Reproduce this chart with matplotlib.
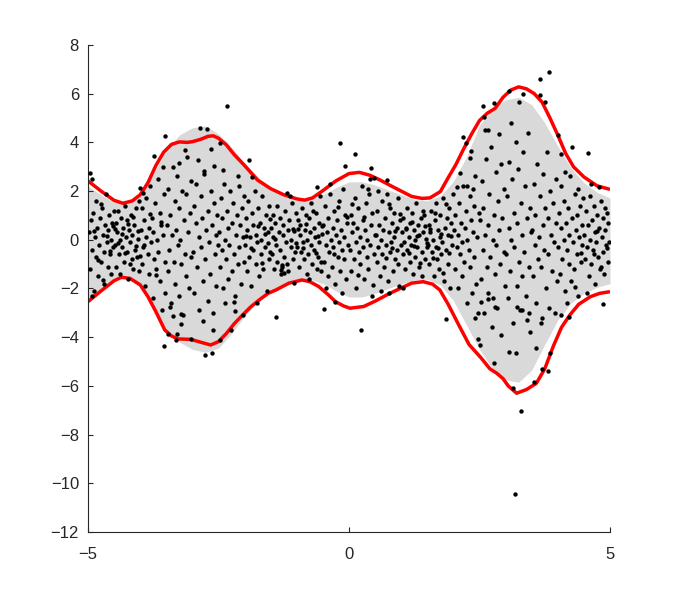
import matplotlib
matplotlib.use("Agg")
import matplotlib.pyplot as plt

# ---------------- data ----------------
# grey band (lower / upper edge)
band_x = [-5.0, -4.75, -4.5, -4.25, -4.0, -3.75, -3.5, -3.25, -3.0, -2.75, -2.5, -2.25, -2.0, -1.75,
          -1.5, -1.25, -1.0, -0.75, -0.5, -0.25, 0.0, 0.25, 0.5, 0.75, 1.0, 1.25, 1.5, 1.75, 2.0,
          2.25, 2.5, 2.75, 3.0, 3.25, 3.5, 3.75, 4.0, 4.25, 4.5, 4.75, 5.0]
band_hi = [2.2, 1.85, 1.55, 1.5, 1.8, 2.7, 3.7, 4.3, 4.6, 4.68, 4.35, 3.8, 3.15, 2.6,
           2.15, 1.85, 1.62, 1.65, 1.85, 2.15, 2.38, 2.38, 2.25, 2.05, 1.85, 1.65, 1.6, 1.8, 2.4,
           3.4, 4.7, 5.4, 5.75, 5.85, 5.55, 4.8, 3.85, 2.95, 2.35, 1.95, 1.72]
band_lo = [-2.6, -2.0, -1.55, -1.45, -1.8, -2.7, -3.7, -4.2, -4.5, -4.62, -4.45, -3.85, -3.15, -2.55,
           -2.1, -1.8, -1.62, -1.62, -1.8, -2.1, -2.35, -2.35, -2.2, -2.0, -1.82, -1.66, -1.62, -1.85, -2.5,
           -3.5, -4.5, -5.3, -5.75, -5.85, -5.35, -4.3, -3.3, -2.6, -2.2, -1.95, -1.8]

# red upper curve
up_x = [-5.0, -4.75, -4.5, -4.33, -4.15, -4.0, -3.85, -3.7, -3.55, -3.4, -3.25, -3.1, -3.0, -2.85,
        -2.7, -2.6, -2.5, -2.35, -2.2, -2.0, -1.75, -1.5, -1.25, -1.0, -0.85, -0.7, -0.5, -0.25,
        0.0, 0.2, 0.4, 0.6, 0.8, 1.0, 1.2, 1.4, 1.55, 1.75, 1.9, 2.05, 2.2, 2.35, 2.5, 2.65, 2.8,
        2.95, 3.1, 3.25, 3.4, 3.55, 3.7, 3.85, 4.0, 4.15, 4.3, 4.5, 4.75, 5.0]
up_y = [2.42, 2.0, 1.62, 1.5, 1.6, 1.85, 2.35, 3.05, 3.6, 3.92, 4.02, 4.0, 4.03, 4.12,
        4.25, 4.27, 4.17, 3.9, 3.5, 3.05, 2.45, 2.1, 1.85, 1.68, 1.63, 1.72, 2.02, 2.42,
        2.72, 2.77, 2.65, 2.45, 2.22, 2.0, 1.78, 1.7, 1.72, 1.98, 2.55, 3.1, 3.75, 4.35, 4.9, 5.2, 5.4,
        5.85, 6.15, 6.28, 6.2, 6.0, 5.65, 5.0, 4.3, 3.55, 3.0, 2.58, 2.22, 2.07]

# red lower curve
lo_x = [-5.0, -4.75, -4.5, -4.36, -4.2, -4.0, -3.85, -3.7, -3.53, -3.4, -3.28, -3.15, -3.03, -2.85,
        -2.65, -2.5, -2.35, -2.2, -2.04, -1.88, -1.72, -1.55, -1.4, -1.15, -0.9, -0.75, -0.58, -0.4,
        -0.26, -0.1, 0.02, 0.28, 0.5, 0.78, 1.0, 1.2, 1.42, 1.6, 1.74, 1.9, 2.12, 2.3, 2.53, 2.7,
        2.83, 2.95, 3.05, 3.21, 3.4, 3.59, 3.75, 3.91, 4.07, 4.23, 4.4, 4.62, 4.8, 5.0]
lo_y = [-2.54, -2.1, -1.68, -1.54, -1.58, -1.85, -2.34, -2.95, -3.7, -3.95, -4.07, -4.08, -4.09, -4.2,
        -4.32, -4.18, -3.85, -3.45, -3.09, -2.75, -2.47, -2.2, -2.06, -1.78, -1.65, -1.72, -1.92, -2.25,
        -2.54, -2.72, -2.81, -2.74, -2.52, -2.2, -1.98, -1.78, -1.72, -1.82, -2.06, -2.65, -3.57, -4.3, -4.85, -5.3,
        -5.48, -5.7, -6.0, -6.3, -6.15, -5.89, -5.3, -4.39, -3.6, -3.09, -2.65, -2.34, -2.2, -2.13]

# scatter points
dots_x = [
    -4.98, -4.96, -4.95, -4.93, -4.92, -4.90, -4.89, -4.87, -4.85, -4.84, -4.82, -4.80, -4.79, -4.77, -4.75, -4.74, -4.72, -4.70, -4.69, -4.67,
    -4.66, -4.64, -4.62, -4.61, -4.59, -4.58, -4.56, -4.55, -4.54, -4.52, -4.51, -4.97, -4.92, -4.88, -4.81, -4.76, -4.71, -4.63, -4.57, -4.53,
    -4.49, -4.47, -4.46, -4.44, -4.43, -4.41, -4.39, -4.38, -4.36, -4.34, -4.33, -4.31, -4.29, -4.28, -4.26, -4.25, -4.23, -4.21, -4.20, -4.18,
    -4.16, -4.15, -4.13, -4.12, -4.10, -4.08, -4.07, -4.05, -4.03, -4.02, -4.48, -4.42, -4.35, -4.30, -4.24, -4.19, -4.14, -4.09, -4.04, -4.01,
    -3.99, -3.97, -3.96, -3.94, -3.93, -3.91, -3.89, -3.88, -3.86, -3.84, -3.83, -3.81, -3.79, -3.78, -3.76, -3.75, -3.73, -3.71, -3.70, -3.68,
    -3.66, -3.65, -3.63, -3.62, -3.60, -3.58, -3.57, -3.55, -3.53, -3.52, -4.01, -3.95, -3.74, -3.56, -3.52, -3.54, -3.92, -3.82, -3.69, -3.61,
    -3.49, -3.47, -3.46, -3.44, -3.43, -3.41, -3.39, -3.38, -3.36, -3.34, -3.33, -3.31, -3.29, -3.28, -3.26, -3.25, -3.23, -3.21, -3.20, -3.18,
    -3.16, -3.15, -3.13, -3.12, -3.10, -3.08, -3.07, -3.05, -3.03, -3.02, -3.26, -3.29, -3.47, -3.03, -3.31, -3.22, -3.21, -3.38, -3.14, -3.42,
    -2.99, -2.97, -2.96, -2.94, -2.93, -2.91, -2.88, -2.87, -2.84, -2.83, -2.81, -2.80, -2.77, -2.76, -2.74, -2.71, -2.70, -2.68, -2.67, -2.64,
    -2.63, -2.61, -2.58, -2.57, -2.55, -2.54, -2.52, -2.51, -2.89, -2.85, -2.72, -2.78, -2.65, -2.59, -2.75, -2.62, -2.79, -2.60,
    -2.49, -2.48, -2.46, -2.44, -2.43, -2.41, -2.39, -2.38, -2.36, -2.34, -2.32, -2.31, -2.29, -2.28, -2.25, -2.24, -2.22, -2.21, -2.18, -2.17,
    -2.15, -2.13, -2.12, -2.10, -2.08, -2.07, -2.05, -2.03, -2.02, -2.01, -2.33, -2.47, -2.42, -2.26, -2.04, -2.20, -2.19, -2.47, -2.37, -2.11,
    -1.99, -1.98, -1.96, -1.95, -1.93, -1.91, -1.90, -1.88, -1.86, -1.84, -1.83, -1.81, -1.79, -1.78, -1.76, -1.74, -1.73, -1.71, -1.69, -1.68,
    -1.66, -1.64, -1.63, -1.61, -1.59, -1.58, -1.56, -1.54, -1.53, -1.51, -1.92, -1.85, -1.77, -1.97, -1.87, -1.75, -1.67, -1.60, -1.55, -1.52,
    -1.49, -1.48, -1.46, -1.45, -1.43, -1.41, -1.40, -1.38, -1.37, -1.35, -1.33, -1.32, -1.30, -1.29, -1.27, -1.26, -1.24, -1.22, -1.21, -1.19,
    -1.17, -1.16, -1.14, -1.12, -1.11, -1.09, -1.07, -1.06, -1.04, -1.02, -1.39, -1.18, -1.13, -1.05, -1.31, -1.28, -1.25, -1.42, -1.08, -1.01,
    -0.99, -0.98, -0.96, -0.94, -0.93, -0.91, -0.90, -0.88, -0.86, -0.85, -0.83, -0.81, -0.80, -0.78, -0.77, -0.75, -0.73, -0.72, -0.70, -0.68,
    -0.67, -0.65, -0.63, -0.62, -0.60, -0.58, -0.57, -0.55, -0.53, -0.52, -0.61, -0.97, -0.89, -0.82, -0.76, -0.69, -0.64, -0.59, -0.54, -0.51,
    -0.49, -0.48, -0.46, -0.44, -0.43, -0.41, -0.40, -0.38, -0.36, -0.35, -0.33, -0.31, -0.30, -0.28, -0.27, -0.25, -0.23, -0.22, -0.20, -0.19,
    -0.17, -0.15, -0.14, -0.12, -0.10, -0.09, -0.07, -0.05, -0.04, -0.02, -0.18, -0.08, -0.48, -0.26, -0.45, -0.37, -0.29, -0.21, -0.13, -0.03,
    0.01, 0.03, 0.04, 0.06, 0.08, 0.09, 0.11, 0.13, 0.14, 0.16, 0.18, 0.19, 0.21, 0.22, 0.24, 0.26, 0.27, 0.29, 0.31, 0.32,
    0.34, 0.35, 0.37, 0.39, 0.40, 0.42, 0.44, 0.45, 0.47, 0.49, 0.12, 0.43, 0.40, 0.47, 0.23, 0.05, 0.17, 0.28, 0.36, 0.46,
    0.51, 0.53, 0.54, 0.56, 0.58, 0.59, 0.61, 0.63, 0.64, 0.66, 0.67, 0.69, 0.71, 0.73, 0.74, 0.76, 0.78, 0.79, 0.81, 0.82,
    0.84, 0.86, 0.87, 0.89, 0.91, 0.92, 0.94, 0.95, 0.97, 0.99, 0.72, 0.76, 0.55, 0.62, 0.70, 0.77, 0.83, 0.88, 0.93, 0.98,
    1.01, 1.03, 1.04, 1.06, 1.08, 1.09, 1.11, 1.12, 1.14, 1.16, 1.17, 1.19, 1.21, 1.22, 1.24, 1.26, 1.27, 1.29, 1.31, 1.32,
    1.34, 1.35, 1.37, 1.39, 1.40, 1.42, 1.44, 1.45, 1.47, 1.49, 1.03, 1.10, 1.15, 1.20, 1.25, 1.30, 1.36, 1.41, 1.46, 1.50,
    1.51, 1.53, 1.54, 1.56, 1.58, 1.59, 1.61, 1.62, 1.64, 1.66, 1.67, 1.69, 1.71, 1.72, 1.74, 1.75, 1.77, 1.79, 1.80, 1.82,
    1.84, 1.85, 1.87, 1.89, 1.90, 1.92, 1.94, 1.95, 1.97, 1.99, 1.85, 1.55, 1.60, 1.65, 1.70, 1.76, 1.81, 1.86, 1.91, 1.96,
    2.01, 2.03, 2.04, 2.06, 2.08, 2.09, 2.11, 2.12, 2.14, 2.16, 2.17, 2.19, 2.21, 2.22, 2.24, 2.26, 2.27, 2.29, 2.31, 2.32,
    2.34, 2.35, 2.37, 2.39, 2.40, 2.42, 2.44, 2.45, 2.47, 2.49, 2.06, 2.13, 2.19, 2.25, 2.34, 2.32, 2.26, 2.38, 2.41, 2.47,
    2.51, 2.52, 2.54, 2.56, 2.57, 2.59, 2.61, 2.62, 2.64, 2.66, 2.67, 2.69, 2.71, 2.72, 2.74, 2.76, 2.77, 2.79, 2.81, 2.82,
    2.84, 2.86, 2.87, 2.89, 2.91, 2.92, 2.94, 2.96, 2.97, 2.99, 2.57, 2.77, 2.58, 2.60, 2.66, 2.50, 2.78, 2.53, 2.67, 2.76, 2.79, 2.88,
    3.01, 3.02, 3.04, 3.06, 3.07, 3.09, 3.11, 3.12, 3.14, 3.16, 3.17, 3.19, 3.21, 3.22, 3.24, 3.26, 3.27, 3.29, 3.31, 3.32,
    3.34, 3.36, 3.37, 3.39, 3.41, 3.42, 3.44, 3.46, 3.47, 3.49, 3.07, 3.34, 3.25, 3.10, 3.18, 3.30, 3.15, 3.07, 3.20, 3.41, 3.44, 3.22, 3.32,
    3.51, 3.52, 3.54, 3.56, 3.57, 3.59, 3.61, 3.62, 3.64, 3.66, 3.67, 3.69, 3.71, 3.72, 3.74, 3.76, 3.77, 3.79, 3.81, 3.82,
    3.84, 3.86, 3.87, 3.89, 3.91, 3.92, 3.94, 3.96, 3.97, 3.99, 3.84, 3.65, 3.66, 3.76, 3.55, 3.70, 3.82, 3.86, 3.59, 3.67,
    4.01, 4.02, 4.04, 4.06, 4.07, 4.09, 4.11, 4.12, 4.14, 4.16, 4.17, 4.19, 4.21, 4.22, 4.24, 4.26, 4.27, 4.29, 4.31, 4.32,
    4.34, 4.36, 4.37, 4.39, 4.41, 4.42, 4.44, 4.46, 4.47, 4.49, 4.00, 4.07, 4.28, 4.22, 4.06, 4.13, 4.18, 4.33, 4.38, 4.45,
    4.51, 4.52, 4.54, 4.56, 4.57, 4.59, 4.61, 4.62, 4.64, 4.66, 4.67, 4.69, 4.71, 4.72, 4.74, 4.76, 4.77, 4.79, 4.81, 4.82,
    4.84, 4.86, 4.87, 4.89, 4.91, 4.92, 4.94, 4.96, 4.97, 4.99, 4.57, 4.78, 4.87, 4.55, 4.63, 4.70, 4.75, 4.83, 4.90, 4.95,
]
dots_y = [
    0.3, -1.2, 0.8, -0.4, 2.48, 1.1, -2.1, 0.1, -0.7, 1.6, 0.5, -1.5, -0.2, 0.9, -0.9, 1.3, 0.2, -0.5, -1.8, 0.6,
    1.9, -0.1, -1.1, 0.4, 1.0, -0.6, 0.0, -1.4, 0.7, -0.3, 1.2, 2.76, -2.3, 0.35, -0.85, 1.45, -1.65, 0.15, -0.45, 0.55,
    -0.2, 0.7, -1.1, 0.3, 1.2, -0.6, 0.0, -1.4, 0.9, -0.3, 0.5, -0.9, 1.4, 0.1, -0.5, 0.8, -1.6, 0.4, -0.1, 1.0,
    -0.8, 0.2, -1.2, 0.6, -0.4, 1.3, -0.7, 0.05, 1.6, -1.3, 0.45, -0.15, 0.25, -0.55, 0.65, -1.0, 0.95, -0.25, 0.35, -0.65,
    0.4, -1.0, 1.3, -0.3, 0.8, -1.9, 0.1, 1.7, -0.6, 0.5, -1.4, 2.2, -0.1, 0.9, -2.4, 0.3, -0.8, 1.5, -1.2, 0.0,
    2.5, -0.5, 1.1, -1.7, 0.6, -2.9, 0.2, 1.9, -0.9, -2.2, 2.14, 1.91, 3.44, 2.98, 4.26, -4.35, -0.2, 1.05, -1.45, 0.75,
    0.6, -1.3, 2.1, -0.4, 1.0, -2.6, 0.2, 3.0, -0.9, 1.6, -1.8, 0.4, 2.6, -0.2, -2.3, 1.3, 0.0, -1.0, 2.0, -3.1,
    0.8, -0.6, 1.9, -1.5, 3.4, 0.3, -2.0, 1.1, -0.7, 2.4, 3.17, -3.87, -3.88, -4.09, -4.10, -3.45, -3.05, -3.12, 3.7, -2.75,
    -0.5, 1.4, -2.2, 0.7, 2.3, -1.1, 0.1, -2.9, 1.8, -0.3, 0.9, -1.7, 2.7, -0.8, 0.4, -2.5, 1.2, -0.1, -1.4, 2.0,
    0.6, -3.0, 1.5, -0.6, 0.2, -1.9, 1.0, -0.2, 3.28, 4.60, 4.54, 2.83, 3.73, 3.03, -4.73, -4.66, -3.33, -3.70,
    0.3, -1.1, 1.7, -0.4, 0.9, -2.0, 2.3, 0.0, -0.8, 1.2, -1.6, 0.5, -0.2, 2.0, -1.3, 0.7, 1.5, -0.6, -2.3, 0.2,
    1.0, -1.0, 2.6, -0.3, 0.6, -1.8, 1.3, 0.1, -0.9, 1.8, 5.51, 3.96, 2.87, -3.70, -3.09, -2.55, -2.92, -4.11, -2.6, 2.2,
    -0.2, 0.9, -1.3, 0.4, 1.6, -0.7, 0.1, -1.9, 1.1, -0.4, 0.6, 2.0, -1.0, 0.2, -0.1, 1.3, -1.5, 0.7, -0.6, 0.0,
    1.8, -1.2, 0.5, -0.3, 1.0, -2.1, 0.3, -0.8, 1.4, -0.5, 3.28, 2.59, -2.61, 0.15, -0.35, 0.55, -0.95, 0.25, -0.15, 0.85,
    0.5, -0.6, 1.0, 0.1, -1.2, 0.7, -0.2, 1.4, -0.9, 0.3, -0.4, 0.9, -1.4, -1.1, 0.2, 0.6, -0.7, 1.2, -0.1, -1.0,
    0.4, -1.3, 0.8, -0.3, 0.0, 1.5, -0.8, 0.35, -0.5, 1.1, -3.16, 1.91, 1.78, -1.79, -1.25, -1.05, -1.35, 0.05, 0.45, -0.15,
    -0.3, 0.8, -1.1, 0.2, 0.6, -0.5, 1.3, -0.1, -0.8, 0.4, 1.0, -1.4, 0.0, -0.6, 0.9, 0.3, -0.2, 1.5, -1.0, 0.5,
    -0.4, 0.1, 1.1, -1.2, -0.7, 0.7, -0.1, 1.8, -0.9, 0.25, 2.18, 0.45, -0.35, 0.65, -1.6, 1.2, -0.55, 0.15, -1.3, 0.55,
    0.6, -0.9, 1.4, -0.2, 0.3, -1.5, 0.9, -0.5, 1.9, 0.0, -1.1, 0.5, -0.3, 1.2, -1.8, 0.2, 0.8, -0.7, -0.1, 1.6,
    -1.3, 0.4, -0.4, 2.1, -0.8, 0.1, 1.0, -1.6, 0.7, -0.2, 3.99, 3.03, -2.86, -2.54, -2.0, 2.3, -0.6, 1.35, -2.2, 0.95,
    -0.4, 1.0, -1.3, 0.3, 0.7, -0.8, 1.7, -0.1, -2.0, 0.5, 1.3, -0.5, 0.1, -1.0, 2.2, -0.3, 0.8, -1.6, 0.4, 1.5,
    -0.7, 0.0, -1.2, 1.9, -0.2, 0.6, -2.3, 1.1, -0.6, 0.2, 3.51, 2.96, 2.50, 2.52, -3.72, 1.45, -1.45, 0.95, 2.1, -1.85,
    0.2, -0.9, 1.2, -0.3, 0.6, -1.5, 0.0, 1.6, -0.6, 0.4, -1.1, 0.9, -0.2, 1.9, -1.7, 0.3, -0.5, 1.3, -0.1, 0.7,
    -1.3, 0.1, 1.1, -0.8, 0.5, -0.4, 1.7, -1.9, 0.8, -0.2, 2.46, -2.19, 2.0, -2.1, -0.75, 1.45, -0.35, 0.35, -1.0, 1.05,
    0.3, -0.6, 0.9, -0.1, -1.2, 0.5, 1.3, -0.4, 0.1, -0.9, 0.7, -0.2, 1.1, -1.4, 0.4, 0.0, -0.7, 1.5, -0.3, 0.6,
    -1.1, 0.2, 0.9, -0.5, -1.5, 0.3, 1.0, -0.8, 0.05, -0.3, -1.97, 0.45, -0.55, 0.75, -0.25, 0.15, -0.95, 1.2, 0.55, -0.15,
    -0.2, 0.6, -1.0, 0.3, 1.2, -0.5, 0.0, -1.5, 0.8, -0.3, 1.5, -0.8, 0.4, -1.2, 0.1, 1.0, -0.6, -0.1, 1.7, -1.7,
    0.5, -0.4, 0.9, -1.0, 0.2, 1.3, -2.0, 0.7, -0.2, 1.9, -3.25, 0.45, -0.75, 1.1, -0.35, 0.25, -1.35, 1.45, -0.55, 0.15,
    0.4, -1.2, 1.0, -0.3, 0.2, -2.0, 1.5, -0.6, 0.7, -1.5, -0.1, 2.2, -0.9, 0.5, 1.2, -2.6, 0.0, -0.4, 1.8, -1.1,
    0.8, -2.2, 0.3, 1.4, -0.7, 2.6, -1.8, 0.1, -3.0, 1.1, 2.18, 2.73, 4.21, 3.99, 3.65, 3.35, 2.2, 2.1, -3.2, -4.09,
    0.8, -1.6, 2.4, -0.4, 1.3, -3.0, 0.2, 3.3, -1.1, -2.2, 0.6, 1.9, -0.7, 3.8, -3.6, 0.0, 1.0, -1.4, 2.8, -0.2,
    -2.8, 1.6, 0.4, -1.0, 3.1, -3.9, 0.9, -0.5, 2.1, -1.9, 5.49, 5.63, 5.06, 4.51, 4.51, -4.3, -5.07, -2.55, -2.43, -2.4, -2.74, 4.35,
    -0.6, 1.8, -2.4, 0.5, 3.2, -1.3, 0.0, 2.5, -3.4, 1.1, -0.3, 4.0, -1.9, 0.7, 2.9, -0.9, -2.9, 1.5, 0.2, -1.5,
    3.6, -0.5, 2.2, -2.3, 0.9, 4.4, -1.1, 1.3, -3.8, 0.3, 6.11, 5.97, 5.67, 4.81, -10.44, -7.02, -6.07, -4.6, -4.66, -3.3, -3.0, -2.76, -2.9,
    0.4, -1.5, 2.3, -0.2, 1.0, -2.6, 3.1, -0.8, 0.1, 1.8, -1.1, -3.2, 2.7, 0.6, -0.4, 1.3, -2.0, 3.6, -0.6, 0.9,
    -2.8, 2.0, 0.2, -1.3, 1.5, -0.1, -3.0, 2.5, 0.7, -1.7, 6.90, 6.60, 5.95, 5.67, -5.83, -5.31, -5.39, -4.64, -4.46, -3.43,
    -0.3, 1.1, -1.4, 0.5, 2.2, -0.8, 0.0, 1.6, -2.1, 0.7, -0.4, 1.3, -1.0, 0.2, 2.6, -1.7, 0.9, -0.1, -1.2, 1.9,
    0.4, -0.6, 1.0, -2.3, 0.1, 1.4, -0.9, 0.6, -0.2, 1.7, 4.30, 3.52, 3.82, -3.16, -3.10, 2.8, -2.6, -1.95, 2.1, -0.55,
    0.2, -0.8, 1.2, -0.3, 0.6, -1.5, 1.8, 0.0, -1.0, 0.8, -0.4, 1.4, -1.8, 0.3, -0.1, 1.0, -0.7, 0.5, -1.2, 1.6,
    0.1, -0.5, 0.9, -1.4, 0.4, -0.2, 1.1, -0.9, 0.7, -0.1, 3.55, 2.18, -2.65, -2.2, 2.3, -0.6, 0.35, -1.1, 1.3, -0.35,
]

x_ticks = [-5, 0, 5]
y_ticks = [-12, -10, -8, -6, -4, -2, 0, 2, 4, 6, 8]

# ---------------- drawing ----------------
plt.rcParams['font.family'] = ['Liberation Sans', 'DejaVu Sans']
axis_col = '#262626'

fig = plt.figure(figsize=(6.75, 6.0), dpi=100)
ax = fig.add_axes([88 / 675, 68 / 600, 522 / 675, 487 / 600])

ax.fill_between(band_x, band_lo, band_hi, color='#d9d9d9', linewidth=0, zorder=1)
ax.plot(up_x, up_y, color='#ff0000', linewidth=2.5, zorder=2,
        solid_joinstyle='round', solid_capstyle='butt')
ax.plot(lo_x, lo_y, color='#ff0000', linewidth=2.5, zorder=2,
        solid_joinstyle='round', solid_capstyle='butt')
ax.scatter(dots_x, dots_y, s=10, color='black', linewidths=0, zorder=3)

ax.set_xlim(-5, 5)
ax.set_ylim(-12, 8)
ax.set_xticks(x_ticks)
ax.set_yticks(y_ticks)
ax.spines['top'].set_visible(False)
ax.spines['right'].set_visible(False)
for sp in ('left', 'bottom'):
    ax.spines[sp].set_color(axis_col)
    ax.spines[sp].set_linewidth(0.8)
ax.tick_params(axis='both', direction='in', length=3.5, width=0.8, colors=axis_col,
               labelsize=12, labelcolor=axis_col)
ax.tick_params(axis='y', pad=6.5)
ax.tick_params(axis='x', pad=11)

fig.savefig('out.png', dpi=100)
